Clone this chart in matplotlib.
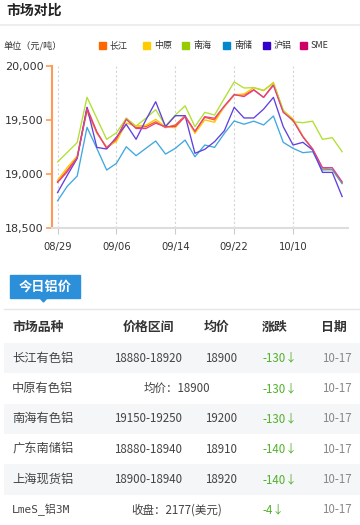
import matplotlib
matplotlib.use("Agg")
import matplotlib.pyplot as plt
from matplotlib.patches import Rectangle, Polygon

plt.rcParams['font.family'] = ['Noto Sans CJK SC', 'DejaVu Sans']

# ---- chart data (30 trading days) ----
tick_idx = [0, 6, 12, 18, 24]
tick_labels = ["08/29", "09/06", "09/14", "09/22", "10/10"]
y_ticks = [18500, 19000, 19500, 20000]

series_names = ["长江", "中原", "南海", "南储", "沪铝", "SME"]
legend_colors = ["#ff6600", "#ffcc00", "#99cc00", "#0088cc", "#3300cc", "#cc0066"]
line_colors = ["#ff5a10", "#ffc400", "#b0e030", "#40a8e0", "#6040e0", "#e04090"]

changjiang = [18926, 19035, 19158, 19612, 19390, 19236, 19313, 19515, 19428, 19437,
              19483, 19428, 19453, 19539, 19390, 19524, 19500, 19622, 19731, 19731,
              19780, 19709, 19830, 19576, 19500, 19344, 19227, 19050, 19041, 18917]
zhongyuan = [18940, 19060, 19165, 19580, 19375, 19250, 19300, 19470, 19443, 19450,
             19505, 19435, 19428, 19535, 19375, 19500, 19478, 19625, 19735, 19740,
             19799, 19771, 19848, 19585, 19510, 19350, 19225, 19045, 19035, 18910]
nanhai = [19110, 19200, 19290, 19710, 19515, 19320, 19380, 19515, 19443, 19515,
          19595, 19445, 19545, 19630, 19437, 19570, 19545, 19700, 19852, 19796,
          19799, 19775, 19840, 19592, 19483, 19474, 19488, 19320, 19335, 19205]
nanchu = [18750, 18886, 18979, 19431, 19236, 19035, 19097, 19251, 19168, 19236,
          19304, 19183, 19236, 19313, 19158, 19267, 19245, 19375, 19490, 19460,
          19488, 19453, 19536, 19292, 19236, 19196, 19205, 19035, 19040, 18910]
hulv = [18826, 18988, 19143, 19617, 19245, 19230, 19340, 19459, 19320, 19500,
        19669, 19437, 19539, 19539, 19190, 19227, 19298, 19400, 19617, 19518,
        19518, 19600, 19709, 19437, 19267, 19292, 19220, 19013, 19013, 18789]
sme = [18920, 19020, 19150, 19600, 19385, 19240, 19330, 19505, 19420, 19420,
       19469, 19437, 19440, 19530, 19395, 19530, 19515, 19630, 19735, 19716,
       19777, 19709, 19820, 19570, 19495, 19344, 19230, 19057, 19057, 18926]
all_series = [changjiang, zhongyuan, nanhai, nanchu, hulv, sme]

# ---- table data ----
headers = ["市场品种", "价格区间", "均价", "涨跌", "日期"]
markets = ["长江有色铝", "中原有色铝", "南海有色铝", "广东南储铝", "上海现货铝", "LmeS_铝3M"]
ranges = ["18880-18920", "", "19150-19250", "18880-18940", "18900-18940", ""]
avgs = ["18900", "", "19200", "18910", "18920", ""]
merged = ["", "均价：18900", "", "", "", "收盘：2177(美元)"]
changes = ["-130", "-130", "-130", "-140", "-140", "-4"]
dates = ["10-17"] * 6

fig = plt.figure(figsize=(3.6, 5.25), dpi=100)

# overlay in pixel coordinates for header, legend and table
bg = fig.add_axes([0, 0, 1, 1])
bg.set_xlim(0, 360)
bg.set_ylim(525, 0)
bg.axis('off')

bg.text(6, 11, "市场对比", fontsize=10, fontweight='bold', color="#222222", va='center')
bg.plot([0, 360], [25, 25], color="#eeeeee", lw=1.5)
bg.text(3, 45.5, "单位（元/吨）", fontsize=6.6, color="#333333", va='center')

legend_x = [99, 143, 182, 223, 263, 300]
for lx, name, c in zip(legend_x, series_names, legend_colors):
    bg.add_patch(Rectangle((lx, 42), 7, 7, color=c))
    bg.text(lx + 11, 45.5, name, fontsize=6.5, color="#333333", va='center')

# chart
ax = fig.add_axes([51.7 / 360, 1 - 227.7 / 525, 296.3 / 360, 161.7 / 525])
ax.set_facecolor('none')
for vals, c in zip(all_series, line_colors):
    ax.plot(range(len(vals)), vals, color=c, lw=0.95)

ax.set_xlim(-0.6, 29.6)
ax.set_ylim(18500, 20000)
ax.set_xticks(tick_idx)
ax.set_xticklabels(tick_labels, fontsize=7.2, color="#333333", family='DejaVu Sans')
ax.set_yticks(y_ticks)
ax.set_yticklabels([f"{v:,}" for v in y_ticks], fontsize=8, color="#333333", family='DejaVu Sans')
ax.tick_params(axis='y', length=4, width=1.2, color="#ff9955", pad=2)
ax.tick_params(axis='x', length=4, width=0.8, color="#cccccc", pad=6)
ax.grid(axis='x', color="#d5d5d5", linestyle=(0, (2, 2)), lw=0.8)
ax.grid(axis='y', visible=False)
for s in ['top', 'right']:
    ax.spines[s].set_visible(False)
ax.spines['left'].set_color("#ff9955")
ax.spines['left'].set_linewidth(1.5)
ax.spines['bottom'].set_color("#dddddd")
ax.spines['bottom'].set_linewidth(1.5)

# tab "今日铝价"
bg.add_patch(Rectangle((10, 275), 70, 23, color="#2b8fd9"))
bg.add_patch(Polygon([[40, 298], [47, 298], [43.5, 302]], color="#2b8fd9"))
bg.text(45, 286.5, "今日铝价", fontsize=9.5, fontweight='bold', color="white", ha='center', va='center')
bg.plot([4, 360], [309, 309], color="#e6e6e6", lw=1)

# table
header_x = [12, 148, 217, 275, 334]
header_ha = ['left', 'center', 'center', 'center', 'center']
for hx, h, ha in zip(header_x, headers, header_ha):
    bg.text(hx, 327, h, fontsize=9.3, fontweight='bold', color="#333333", ha=ha, va='center')

row_y0 = 358.3
row_h = 30.3
for i in range(len(markets)):
    y = row_y0 + i * row_h
    if i % 2 == 0:
        bg.add_patch(Rectangle((4, y - row_h / 2), 356, row_h, color="#f5f6f8", lw=0))
    if markets[i].startswith("Lme"):
        bg.text(12, y, markets[i], fontsize=8, color="#444444", va='center',
                family=['DejaVu Sans Mono', 'Noto Sans CJK SC'])
    else:
        bg.text(12, y, markets[i], fontsize=8.8, color="#444444", va='center')
    if merged[i]:
        bg.text(177, y, merged[i], fontsize=8.3, color="#444444", ha='center', va='center')
    else:
        bg.text(114, y, ranges[i], fontsize=8.3, color="#444444", va='center')
        bg.text(205, y, avgs[i], fontsize=8.3, color="#444444", va='center')
    bg.text(262, y, changes[i] + "↓", fontsize=8.3, color="#52b02a", va='center')
    bg.text(322, y, dates[i], fontsize=8.3, color="#888888", va='center')

fig.savefig("out.png", dpi=100)
